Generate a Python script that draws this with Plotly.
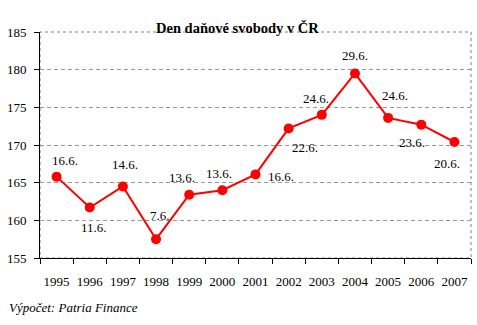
import plotly.graph_objects as go

years = ["1995", "1996", "1997", "1998", "1999", "2000", "2001", "2002", "2003", "2004", "2005", "2006", "2007"]
values = [165.8, 161.7, 164.5, 157.5, 163.4, 164.0, 166.1, 172.2, 174.0, 179.5, 173.6, 172.7, 170.4]
labels = ["16.6.", "11.6.", "14.6.", "7.6.", "13.6.", "13.6.", "16.6.", "22.6.", "24.6.", "29.6.", "24.6.", "23.6.", "20.6."]
# label offsets in pixels (x right, y up)
label_dx = [8, 4, 2, 4, -7, -3, 25, 16, -6, 0, 7, -9, -7]
label_dy = [16, -20, 22, 24, 17, 17, -2, -19, 16, 18, 22, -18, -22]
y_ticks = [155, 160, 165, 170, 175, 180, 185]

FONT = "Liberation Serif"

fig = go.Figure()
fig.add_trace(go.Scatter(
    x=years, y=values, mode="lines+markers",
    line=dict(color="#ff0000", width=2),
    marker=dict(color="#ff0000", size=10, symbol="circle"),
    showlegend=False, hoverinfo="skip",
))

for i, (v, t, dx, dy) in enumerate(zip(values, labels, label_dx, label_dy)):
    fig.add_annotation(x=i, y=v, xref="x", yref="y", text=t, showarrow=False,
                       xshift=dx, yshift=dy, font=dict(family=FONT, size=13, color="black"))

# dotted frame (top/right)
fig.add_shape(type="rect", xref="paper", yref="paper", x0=0, x1=1, y0=0, y1=1,
              line=dict(color="#808080", width=1, dash="dot"), layer="below")

fig.add_annotation(text="<b>Den daňové svobody v ČR</b>", xref="paper", yref="paper",
                   x=0.459, y=1.0, yshift=14, showarrow=False,
                   font=dict(family=FONT, size=14.5, color="black"))
fig.add_annotation(text="<i>Výpočet: Patria Finance</i>", xref="paper", yref="paper",
                   x=0, xshift=-33, y=0, yshift=-49, xanchor="left", yanchor="middle",
                   showarrow=False, font=dict(family=FONT, size=13, color="black"))

fig.update_layout(
    width=477, height=325,
    margin=dict(l=40, r=6, t=32, b=67),
    paper_bgcolor="white", plot_bgcolor="white",
    font=dict(family=FONT, size=13, color="black"),
    xaxis=dict(
        type="category", range=[-0.5, 12.5], autorange=False,
        showline=True, linecolor="black", linewidth=1, tickangle=0,
        ticks="outside", ticklen=5, tickcolor="black", tickson="boundaries",
        showgrid=False, ticklabelstandoff=11, fixedrange=True,
    ),
    yaxis=dict(
        range=[155, 185], autorange=False, tickvals=y_ticks, showline=True, linecolor="black", linewidth=1,
        ticks="outside", ticklen=5, tickcolor="black",
        showgrid=True, gridcolor="#999999", griddash="4px,3px", gridwidth=1,
        zeroline=False, ticklabelstandoff=5, fixedrange=True,
    ),
)

fig.write_html("out.html")
